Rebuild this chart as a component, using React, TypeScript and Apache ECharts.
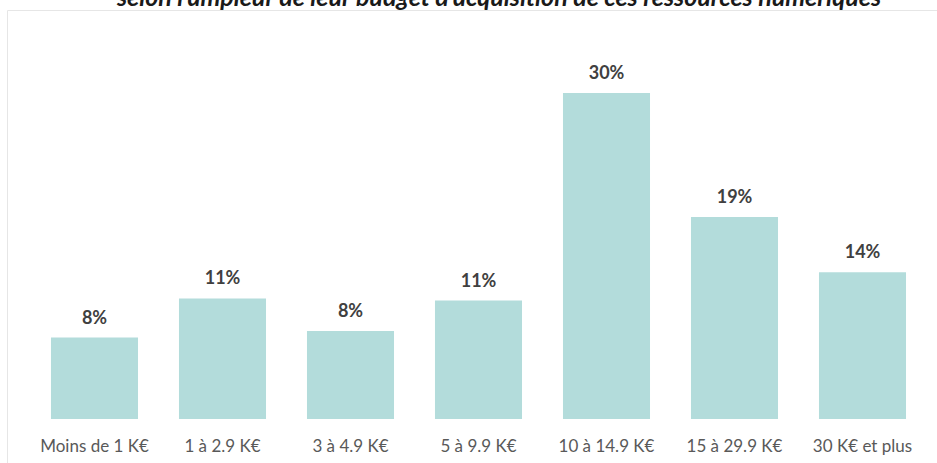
import React, { useEffect, useRef } from "react";
import * as echarts from "echarts";

const categories = [
  "Moins de 1 K€",
  "1 à 2.9 K€",
  "3 à 4.9 K€",
  "5 à 9.9 K€",
  "10 à 14.9 K€",
  "15 à 29.9 K€",
  "30 K€ et plus",
];
const values = [7.5, 11.1, 8.1, 10.9, 30.0, 18.6, 13.5];
const titleText =
  "selon l'ampleur de leur budget d'acquisition de ces ressources numériques";

export default function App() {
  const ref = useRef<HTMLDivElement>(null);
  useEffect(() => {
    if (!ref.current) return;
    const chart = echarts.init(ref.current, null, { renderer: "svg" });
    chart.setOption({
      animation: false,
      backgroundColor: "#ffffff",
      graphic: [
        {
          type: "rect",
          shape: { x: 7.5, y: 10.5, width: 940, height: 470 },
          style: { fill: "none", stroke: "#e6e6e6", lineWidth: 1 },
          silent: true,
        },
        {
          type: "text",
          x: 499,
          y: -4,
          style: {
            text: titleText,
            fill: "#1a1a1a",
            font: "italic bold 25px Lato, 'Open Sans', sans-serif",
            align: "center",
            verticalAlign: "middle",
          },
        },
      ],
      grid: { left: 30.5, right: 10.5, top: 93, bottom: 44, containLabel: false },
      xAxis: {
        type: "category",
        data: categories,
        axisLine: { show: false },
        axisTick: { show: false },
        axisLabel: {
          color: "#595959",
          fontSize: 17,
          fontFamily: "Lato, 'Open Sans', sans-serif",
          margin: 18,
          interval: 0,
        },
      },
      yAxis: {
        type: "value",
        min: 0,
        max: 30,
        show: false,
        splitLine: { show: false },
      },
      series: [
        {
          type: "bar",
          data: values,
          barWidth: "68%",
          itemStyle: { color: "#b3dcdb" },
          label: {
            show: true,
            position: "top",
            distance: 12,
            formatter: (p: any) => Math.round(p.value) + "%",
            color: "#404040",
            fontSize: 18,
            fontWeight: "bold",
            fontFamily: "Lato, 'Open Sans', sans-serif",
          },
        },
      ],
    });
    return () => chart.dispose();
  }, []);
  return (
    <div
      ref={ref}
      style={{ position: "absolute", left: 0, top: 0, width: 937, height: 463 }}
    />
  );
}
